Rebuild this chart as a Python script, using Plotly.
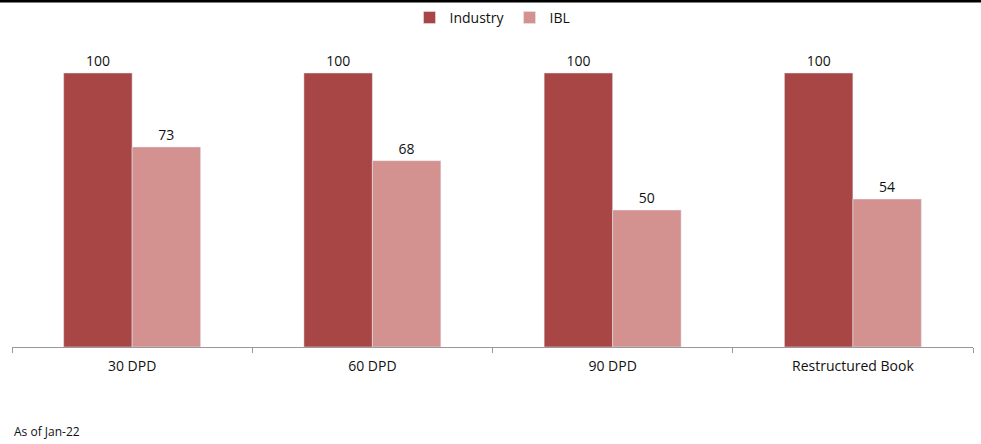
import plotly.graph_objects as go

categories = ["30 DPD", "60 DPD", "90 DPD", "Restructured Book"]
industry = [100, 100, 100, 100]
ibl = [73, 68, 50, 54]

FONT = "'Open Sans', Lato, sans-serif"

fig = go.Figure()
fig.add_trace(go.Bar(name="Industry", x=categories, y=industry, marker_color="#A84646",
                     text=industry, textposition="outside",
                     textfont=dict(size=14, color="#111111", family=FONT), cliponaxis=False))
fig.add_trace(go.Bar(name="IBL", x=categories, y=ibl, marker_color="#D39290",
                     text=ibl, textposition="outside",
                     textfont=dict(size=14, color="#111111", family=FONT), cliponaxis=False))

fig.update_layout(
    width=981, height=444,
    margin=dict(l=12, r=8, t=40, b=97, autoexpand=False),
    barmode="group", bargap=0.43, bargroupgap=0,
    plot_bgcolor="white", paper_bgcolor="white",
    font=dict(family=FONT, size=14, color="#111111"),
    showlegend=True,
    legend=dict(orientation="h", x=0.5, xanchor="center", y=1.072, yanchor="middle",
                font=dict(size=14), itemwidth=30, traceorder="normal",
                bgcolor="rgba(0,0,0,0)", tracegroupgap=0),
    xaxis=dict(showline=True, linecolor="#999999", linewidth=1, ticks="outside",
               tickson="boundaries", ticklen=5, tickcolor="#999999",
               tickfont=dict(size=14), ticklabelstandoff=6, showgrid=False),
    yaxis=dict(visible=False, range=[0, 112.04]),
    annotations=[dict(text="As of Jan-22", xref="paper", yref="paper", x=0.0, y=-0.276,
                      xanchor="left", yanchor="middle", showarrow=False,
                      font=dict(size=12, color="#111111"))],
    shapes=[dict(type="line", xref="paper", yref="paper", x0=-0.02, x1=1.02,
                 y0=1.127, y1=1.127, line=dict(color="black", width=3))],
)

fig.write_html("out.html")
